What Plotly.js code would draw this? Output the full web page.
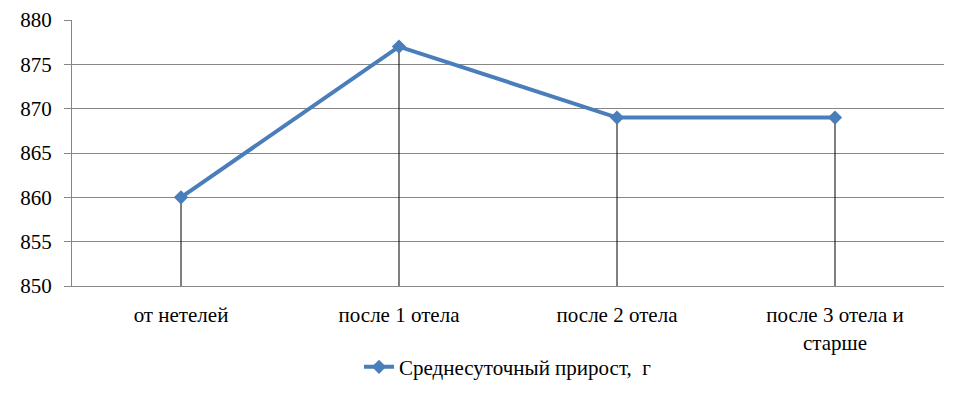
<!DOCTYPE html>
<html><head><meta charset="utf-8">
<script src="https://cdn.plot.ly/plotly-3.0.1.min.js"></script>
<style>body{margin:0}#c{width:955px;height:394px}</style>
</head><body><div id="c"></div>
<script>
const categories = ['от нетелей', 'после 1 отела', 'после 2 отела', 'после 3 отела и<br>старше'];
const gain = [860, 877, 869, 869];
const seriesName = 'Среднесуточный прирост,  г';
const yMin = 850, yMax = 880, yStep = 5;

// drop lines from each point to the axis floor
const dropX = [], dropY = [];
categories.forEach((c, i) => { dropX.push(c, c, null); dropY.push(yMin, gain[i], null); });

const font = {family: 'Liberation Serif, Times New Roman, serif', size: 21, color: '#000'};
const data = [
  {x: dropX, y: dropY, mode: 'lines', line: {color: '#000', width: 1}, showlegend: false, hoverinfo: 'skip'},
  {x: categories, y: gain, name: seriesName, mode: 'lines+markers',
   line: {color: '#4A7EBB', width: 4}, marker: {symbol: 'diamond', size: 11, color: '#4A7EBB'}}
];
const layout = {
  width: 955, height: 394,
  margin: {l: 72, r: 11, t: 20, b: 108, autoexpand: false},
  paper_bgcolor: '#fff', plot_bgcolor: '#fff',
  font: font,
  showlegend: true,
  legend: {orientation: 'h', x: 0.5, xanchor: 'center', y: -0.228, yanchor: 'top', font: font},
  xaxis: {type: 'category', range: [-0.5, 3.5], showgrid: false, showline: true, linecolor: '#868686', linewidth: 1,
          ticks: '', tickfont: font, zeroline: false, fixedrange: true, automargin: false, ticklabelstandoff: 10},
  yaxis: {range: [yMin, yMax], dtick: yStep, tick0: yMin, showgrid: true, gridcolor: '#868686', gridwidth: 1,
          showline: true, linecolor: '#868686', linewidth: 1, ticks: 'outside', ticklen: 7, tickcolor: '#868686',
          tickfont: font, zeroline: false, automargin: false, ticklabelstandoff: 8}
};
Plotly.newPlot('c', data, layout, {displayModeBar: false, staticPlot: true});
</script></body></html>
